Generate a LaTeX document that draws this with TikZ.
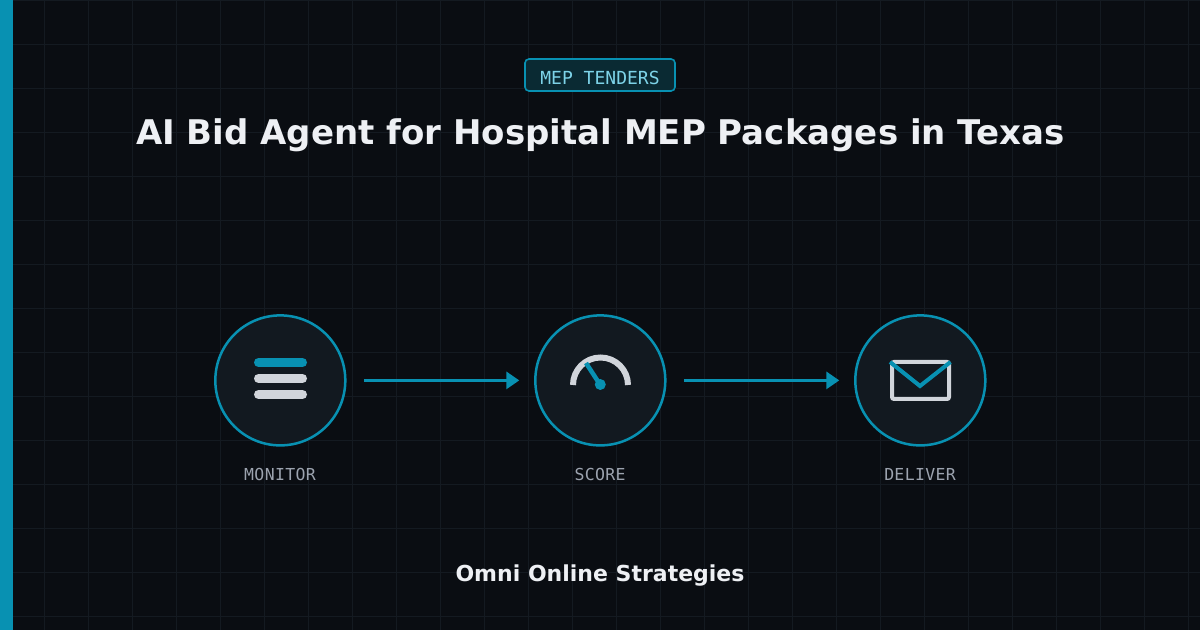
\documentclass[tikz,border=0pt]{standalone}
\usepackage{fontspec}
\setmainfont{DejaVu Sans}
\newfontfamily\monofam{DejaVu Sans Mono}
\newfontfamily\monospaced[LetterSpace=2]{DejaVu Sans Mono}
\usetikzlibrary{arrows.meta}
\definecolor{bgc}{HTML}{0A0D12}
\definecolor{gridc}{HTML}{141A21}
\definecolor{teal}{HTML}{0891B2}
\definecolor{badgefill}{HTML}{0A2A33}
\definecolor{badgetext}{HTML}{7DD3E8}
\definecolor{discfill}{HTML}{121920}
\definecolor{lightc}{HTML}{D1D5DB}
\definecolor{labelc}{HTML}{9CA3AF}
\definecolor{titlec}{HTML}{EEF0F4}
\tikzset{
  disc/.style={circle,draw=teal,fill=discfill,line width=1.875pt,minimum size=97.5pt,inner sep=0pt,outer sep=0pt},
  steplabel/.style={text=labelc,font=\monospaced\fontsize{12.375pt}{15pt}\selectfont,inner sep=0pt,anchor=base},
  flow/.style={draw=teal,line width=2.25pt,-{Triangle[length=9.75pt,width=12.75pt]},shorten <=14.25pt,shorten >=12pt},
  gridline/.style={draw=gridc,line width=.75pt},
  barline/.style={line width=6.75pt,line cap=round},
}
\begin{document}
\begin{tikzpicture}[x=.75pt,y=-.75pt]
\useasboundingbox (0,0) rectangle (1200,630);
\fill[bgc] (0,0) rectangle (1200,630);
\foreach \k in {0,...,27} \draw[gridline] ({\k*44+.5},0) -- ({\k*44+.5},630);
\foreach \k in {0,...,14} \draw[gridline] (0,{\k*44+.5}) -- (1200,{\k*44+.5});
\fill[teal] (0,0) rectangle (13,630);
% badge
\node[draw=teal,fill=badgefill,line width=1.2pt,rounded corners=3pt,minimum width=112.5pt,minimum height=24pt,inner sep=0pt,outer sep=0pt] (badge) at (600,75) {};
\node[text=badgetext,font=\monofam\fontsize{13.5pt}{16pt}\selectfont,inner sep=0pt,anchor=base] (badgetxt) at (600,84.5) {MEP TENDERS};
\node[text=titlec,font=\bfseries\fontsize{25.5pt}{30pt}\selectfont,inner sep=0pt,anchor=base] (title) at (600.3,145) {AI Bid Agent for Hospital MEP Packages in Texas};
% discs
\node[disc] (monitor) at (280.3,380.4) {};
\node[disc] (score) at (600.3,380.4) {};
\node[disc] (deliver) at (920.3,380.4) {};
\draw[flow] (monitor) -- (score);
\draw[flow] (score) -- (deliver);
\node[steplabel] (monitorlabel) at (280,481) {MONITOR};
\node[steplabel] (scorelabel) at (600,481) {SCORE};
\node[steplabel] (deliverlabel) at (920,481) {DELIVER};
% monitor icon
\draw[barline,teal] (258.5,362.5) -- (302.5,362.5);
\draw[barline,lightc] (258.5,378.5) -- (302.5,378.5);
\draw[barline,lightc] (258.5,394.5) -- (302.5,394.5);
% score icon
\draw[lightc,line width=4.5pt] (573,385) arc[start angle=180,end angle=360,radius=27.5];
\draw[teal,line width=3.4pt] (600.3,385) -- (586,363);
\fill[teal] (600.3,384.5) circle[radius=5.5];
% deliver icon
\draw[lightc,line width=3pt,rounded corners=1.5pt] (892,362) rectangle (949,399);
\draw[teal,line width=3pt] (890,362) -- (920,386) -- (950.5,362);
\node[text=titlec,font=\bfseries\fontsize{16.5pt}{20pt}\selectfont,inner sep=0pt,anchor=base] (footer) at (600,581.5) {Omni Online Strategies};
\end{tikzpicture}
\end{document}
